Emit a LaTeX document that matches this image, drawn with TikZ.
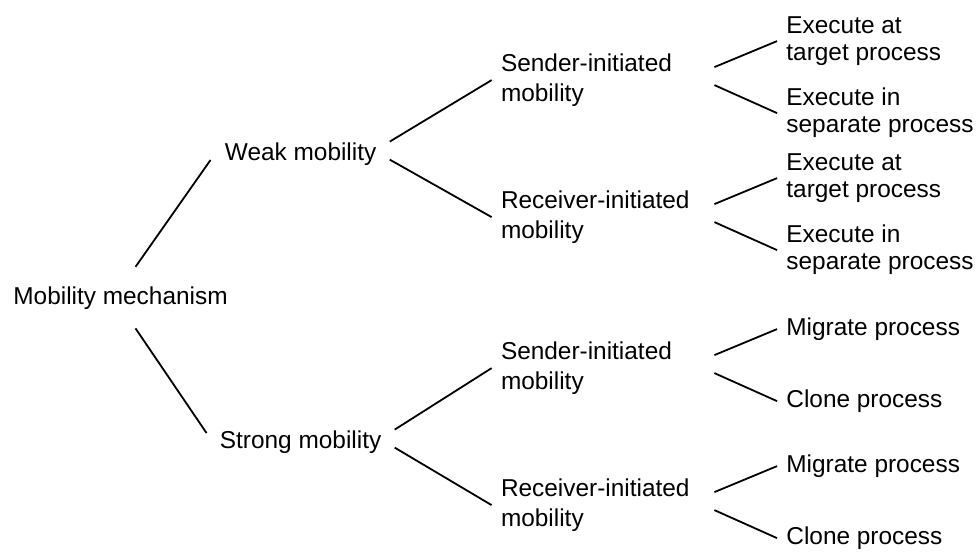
\documentclass[tikz,border=0pt]{standalone}
\usepackage{fontspec}
\setmainfont{Liberation Sans}
\usepackage{tikz}
\usetikzlibrary{trees}
\newcommand{\branchfont}{\fontsize{12.2}{15}\selectfont}
\newcommand{\leaffont}{\fontsize{12.2}{13.5}\selectfont}

\begin{document}
\begin{tikzpicture}[grow'=right,
	every node/.style={anchor=west,inner sep=0pt,align=left,font=\branchfont},
	edge from parent/.style={draw,line width=0.9pt},
	level 1/.style={level distance=52pt,sibling distance=144pt},
	level 2/.style={level distance=100pt,sibling distance=68.5pt,
		every node/.append style={yshift=3pt,text width=100pt}},
	level 3/.style={level distance=92.5pt,sibling distance=36pt,
		every node/.style={anchor=west,inner sep=0pt,align=left,font=\leaffont,yshift=1.5pt}},
	rootup/.style={edge from parent path={([xshift=7.5pt,yshift=10pt]\tikzparentnode.north) -- ([xshift=-7pt,yshift=-2.7pt]\tikzchildnode.west)}},
	rootdn/.style={edge from parent path={([xshift=7.5pt,yshift=-9pt]\tikzparentnode.south) -- ([xshift=-6.5pt,yshift=4.8pt]\tikzchildnode.west)}},
	hi/.style={edge from parent path={([xshift=6.5pt,yshift=6.5pt]\tikzparentnode.east) -- ([xshift=-4.5pt]\tikzchildnode.west)}},
	lo/.style={edge from parent path={([xshift=6.5pt,yshift=-2.5pt]\tikzparentnode.east) -- ([xshift=-4.5pt]\tikzchildnode.west)}}]
\useasboundingbox (0,0) rectangle (489pt,-276.5pt);
\node (mm) at (6.5pt,-149.3pt) {Mobility mechanism}
	child[rootup] {node (weak) {Weak mobility}
		child[hi] {node (ws) {Sender-initiated\\mobility}
			child[hi] {node (wsa) {Execute at\\target process}}
			child[lo] {node (wsb) {Execute in\\separate process}}
		}
		child[lo] {node (wr) {Receiver-initiated\\mobility}
			child[hi] {node (wra) {Execute at\\target process}}
			child[lo] {node (wrb) {Execute in\\separate process}}
		}
	}
	child[rootdn] {node[xshift=-2.5pt] (strong) {Strong mobility}
		child[hi] {node (ss) {Sender-initiated\\mobility}
			child[hi] {node (ssa) {Migrate process}}
			child[lo] {node (ssb) {Clone process}}
		}
		child[lo] {node (sr) {Receiver-initiated\\mobility}
			child[hi] {node (sra) {Migrate process}}
			child[lo] {node (srb) {Clone process}}
		}
	}
;
\end{tikzpicture}
\end{document}
